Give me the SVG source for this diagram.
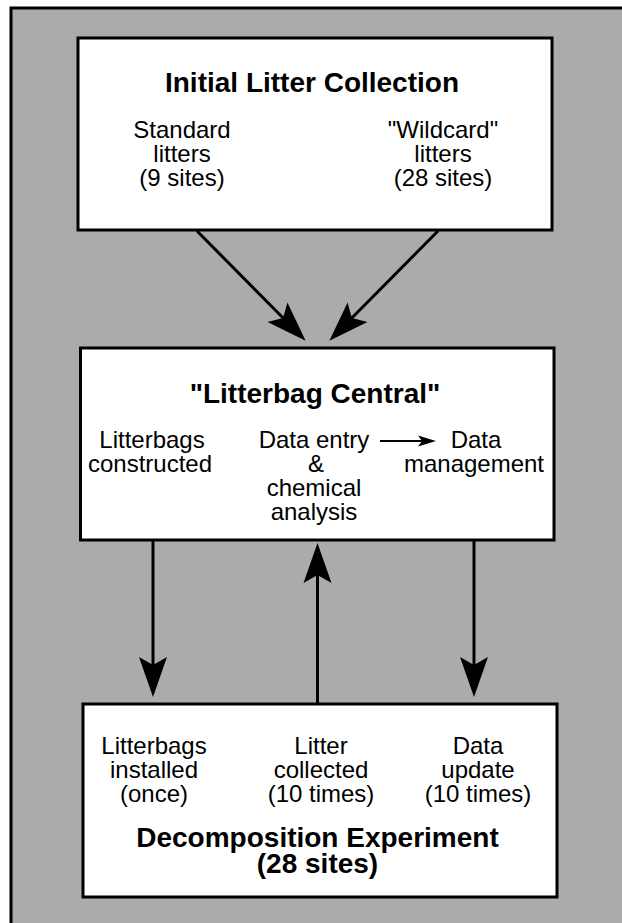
<svg xmlns="http://www.w3.org/2000/svg" width="622" height="923" viewBox="0 0 622 923">
<style>
.box{fill:#ffffff;stroke:#000;stroke-width:3}
.t{font-family:"Liberation Sans",Arial,Helvetica,sans-serif;font-size:24px;fill:#000;text-anchor:middle}
.b{font-weight:bold;font-size:28px}
.conn{stroke:#000;stroke-width:3;fill:none}
.thin{stroke:#000;stroke-width:2;fill:none}
</style>
<defs>
<marker id="ah" markerUnits="userSpaceOnUse" markerWidth="44" markerHeight="32" viewBox="-2 -16 44 32" refX="32" refY="0" orient="auto">
<path d="M40,0 L0,-14 L8,0 L0,14 Z" fill="#000"/>
</marker>
<marker id="ahs" markerUnits="userSpaceOnUse" markerWidth="20" markerHeight="12" viewBox="-1 -6 20 12" refX="14" refY="0" orient="auto">
<path d="M18,0 L0,-5.5 L4,0 L0,5.5 Z" fill="#000"/>
</marker>
</defs>
<rect x="0" y="0" width="622" height="923" fill="#ffffff"/>
<rect x="11" y="8" width="611" height="915" fill="#ababab"/>
<path d="M11,923 L11,8 L622,8" fill="none" stroke="#000" stroke-width="3"/>

<g id="connectors">
<line class="conn" x1="197" y1="231" x2="300" y2="335" marker-end="url(#ah)"/>
<line class="conn" x1="438" y1="231" x2="335" y2="335" marker-end="url(#ah)"/>
<line class="conn" x1="153" y1="541" x2="153" y2="689" marker-end="url(#ah)"/>
<line class="conn" x1="474" y1="541" x2="474" y2="689" marker-end="url(#ah)"/>
<line class="conn" x1="317.5" y1="704" x2="317.5" y2="551" marker-end="url(#ah)"/>
</g>

<g id="initial-litter-collection">
<rect class="box" x="78" y="38" width="474" height="192"/>
<text class="t b" x="312" y="92">Initial Litter Collection</text>
<text class="t" x="182" y="138">Standard</text>
<text class="t" x="182" y="162">litters</text>
<text class="t" x="182" y="186">(9 sites)</text>
<text class="t" x="443" y="138">"Wildcard"</text>
<text class="t" x="443" y="162">litters</text>
<text class="t" x="443" y="186">(28 sites)</text>
</g>

<g id="litterbag-central">
<rect class="box" x="80.5" y="348" width="473.5" height="192"/>
<text class="t b" x="315" y="403">"Litterbag Central"</text>
<text class="t" x="152" y="448">Litterbags</text>
<text class="t" x="150" y="472">constructed</text>
<text class="t" x="314" y="448">Data entry</text>
<text class="t" x="316" y="472">&amp;</text>
<text class="t" x="314" y="496">chemical</text>
<text class="t" x="314" y="520">analysis</text>
<line class="thin" x1="380" y1="441" x2="432" y2="441" marker-end="url(#ahs)"/>
<text class="t" x="476" y="448">Data</text>
<text class="t" x="474" y="472">management</text>
</g>

<g id="decomposition-experiment">
<rect class="box" x="83" y="704" width="474" height="193"/>
<text class="t" x="154" y="754">Litterbags</text>
<text class="t" x="154" y="778">installed</text>
<text class="t" x="154" y="802">(once)</text>
<text class="t" x="321" y="754">Litter</text>
<text class="t" x="321" y="778">collected</text>
<text class="t" x="321" y="802">(10 times)</text>
<text class="t" x="478" y="754">Data</text>
<text class="t" x="478" y="778">update</text>
<text class="t" x="478" y="802">(10 times)</text>
<text class="t b" x="317.5" y="847">Decomposition Experiment</text>
<text class="t b" x="317.5" y="873">(28 sites)</text>
</g>
</svg>
